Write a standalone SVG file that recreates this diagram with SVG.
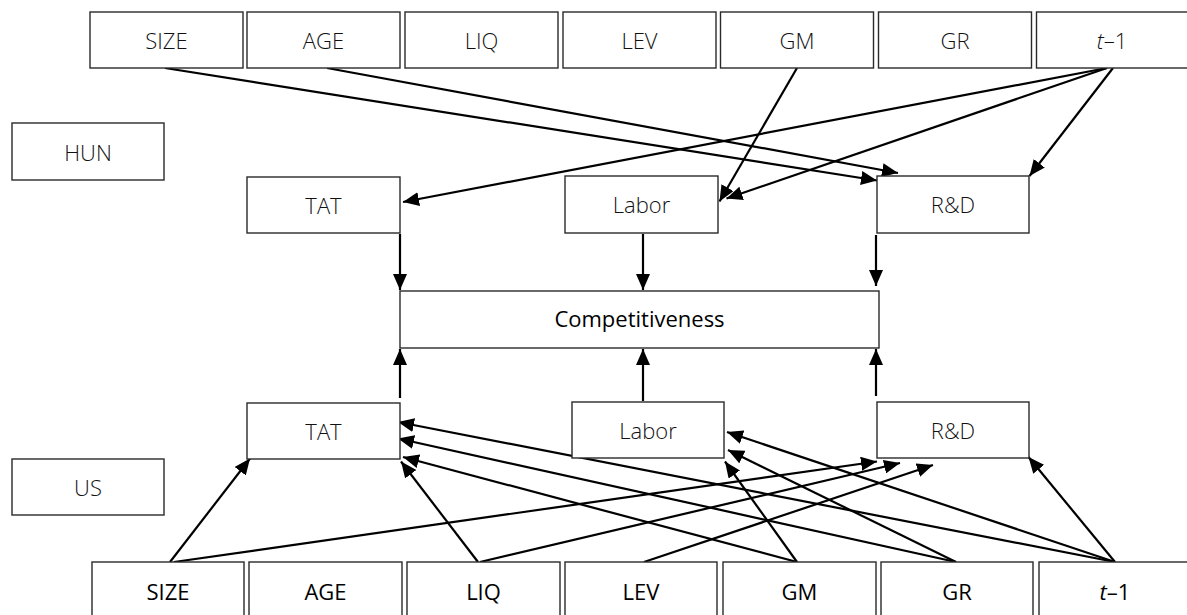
<svg xmlns="http://www.w3.org/2000/svg" width="1187" height="615" viewBox="0 0 1187 615">
<defs>
<style>
.box{fill:#fff;stroke:#2a2a2a;stroke-width:1.4}
.lbl{font-family:"Open Sans","Liberation Sans",sans-serif;font-size:22px;text-anchor:middle;fill:#111;font-weight:300}
.dark{font-weight:400;fill:#000}
.c{fill:none;stroke:#000;stroke-width:2.2}
</style>
<marker id="ah" markerUnits="userSpaceOnUse" markerWidth="16" markerHeight="14" refX="16" refY="7" orient="auto">
<path d="M0,0 L16,7 L0,14 z" fill="#000"/>
</marker>
</defs>
<rect width="1187" height="615" fill="#fff"/>

<g id="connectors">
<!-- top (HUN) -->
<line class="c" x1="165" y1="68" x2="877" y2="180.5" marker-end="url(#ah)"/>
<line class="c" x1="327" y1="68" x2="898" y2="173" marker-end="url(#ah)"/>
<line class="c" x1="797" y1="68" x2="719.5" y2="201.5" marker-end="url(#ah)"/>
<line class="c" x1="1107" y1="68" x2="403" y2="202" marker-end="url(#ah)"/>
<line class="c" x1="1107" y1="68" x2="726.5" y2="198.5" marker-end="url(#ah)"/>
<line class="c" x1="1113" y1="68" x2="1029.5" y2="176" marker-end="url(#ah)"/>
<line class="c" x1="400" y1="234" x2="400" y2="290" marker-end="url(#ah)"/>
<line class="c" x1="643" y1="234" x2="643" y2="290" marker-end="url(#ah)"/>
<line class="c" x1="876" y1="235" x2="876" y2="286" marker-end="url(#ah)"/>
<!-- bottom (US) -->
<line class="c" x1="400" y1="398" x2="400" y2="349" marker-end="url(#ah)"/>
<line class="c" x1="643" y1="401" x2="643" y2="349" marker-end="url(#ah)"/>
<line class="c" x1="876" y1="396" x2="876" y2="349" marker-end="url(#ah)"/>
<line class="c" x1="170" y1="562" x2="250" y2="458.5" marker-end="url(#ah)"/>
<line class="c" x1="174" y1="562" x2="877" y2="461.5" marker-end="url(#ah)"/>
<line class="c" x1="478" y1="562" x2="401" y2="461.5" marker-end="url(#ah)"/>
<line class="c" x1="480" y1="562" x2="900" y2="463" marker-end="url(#ah)"/>
<line class="c" x1="644" y1="562" x2="933" y2="465" marker-end="url(#ah)"/>
<line class="c" x1="797" y1="562" x2="403" y2="457" marker-end="url(#ah)"/>
<line class="c" x1="797" y1="562" x2="725" y2="461.5" marker-end="url(#ah)"/>
<line class="c" x1="956" y1="562" x2="398" y2="438.5" marker-end="url(#ah)"/>
<line class="c" x1="956" y1="562" x2="728" y2="450" marker-end="url(#ah)"/>
<line class="c" x1="1115" y1="562" x2="398" y2="422" marker-end="url(#ah)"/>
<line class="c" x1="1115" y1="562" x2="727" y2="432" marker-end="url(#ah)"/>
<line class="c" x1="1115" y1="562" x2="1028.5" y2="457" marker-end="url(#ah)"/>
</g>

<g id="hun-size"><rect class="box" x="90" y="12" width="153" height="56"/><text class="lbl" x="166.5" y="49">SIZE</text></g>
<g id="hun-age"><rect class="box" x="247" y="12" width="153" height="56"/><text class="lbl" x="323.5" y="49">AGE</text></g>
<g id="hun-liq"><rect class="box" x="405" y="12" width="153" height="56"/><text class="lbl" x="481.5" y="49">LIQ</text></g>
<g id="hun-lev"><rect class="box" x="563" y="12" width="153" height="56"/><text class="lbl" x="639.5" y="49">LEV</text></g>
<g id="hun-gm"><rect class="box" x="720.5" y="12" width="153" height="56"/><text class="lbl" x="797" y="49">GM</text></g>
<g id="hun-gr"><rect class="box" x="878.5" y="12" width="153" height="56"/><text class="lbl" x="955" y="49">GR</text></g>
<g id="hun-t1"><rect class="box" x="1036.5" y="12" width="153" height="56"/><text class="lbl" x="1112" y="49"><tspan font-style="italic">t</tspan>–1</text></g>

<g id="hun"><rect class="box" x="12" y="123" width="152" height="57"/><text class="lbl" x="88" y="161">HUN</text></g>
<g id="us"><rect class="box" x="12" y="459" width="152" height="56"/><text class="lbl" x="88" y="496">US</text></g>

<g id="hun-tat"><rect class="box" x="247" y="177" width="153" height="56"/><text class="lbl" x="323.5" y="214">TAT</text></g>
<g id="hun-labor"><rect class="box" x="565" y="176" width="153" height="57"/><text class="lbl" x="641.5" y="213">Labor</text></g>
<g id="hun-rd"><rect class="box" x="877" y="176" width="152" height="57"/><text class="lbl" x="953" y="213">R&amp;D</text></g>

<g id="competitiveness"><rect class="box" x="400" y="291" width="479" height="57"/><text class="lbl dark" x="639.5" y="327">Competitiveness</text></g>

<g id="us-tat"><rect class="box" x="247" y="403" width="153" height="56"/><text class="lbl" x="323.5" y="440">TAT</text></g>
<g id="us-labor"><rect class="box" x="572" y="402" width="152" height="56"/><text class="lbl" x="648" y="439">Labor</text></g>
<g id="us-rd"><rect class="box" x="877" y="402" width="152" height="56"/><text class="lbl" x="953" y="439">R&amp;D</text></g>

<g id="us-size"><rect class="box" x="92" y="562" width="152" height="60"/><text class="lbl dark" x="168" y="600">SIZE</text></g>
<g id="us-age"><rect class="box" x="249" y="562" width="153" height="60"/><text class="lbl dark" x="325.5" y="600">AGE</text></g>
<g id="us-liq"><rect class="box" x="407" y="562" width="153" height="60"/><text class="lbl dark" x="483.5" y="600">LIQ</text></g>
<g id="us-lev"><rect class="box" x="565" y="562" width="152" height="60"/><text class="lbl dark" x="641" y="600">LEV</text></g>
<g id="us-gm"><rect class="box" x="723" y="562" width="153" height="60"/><text class="lbl dark" x="799.5" y="600">GM</text></g>
<g id="us-gr"><rect class="box" x="881" y="562" width="152" height="60"/><text class="lbl dark" x="957" y="600">GR</text></g>
<g id="us-t1"><rect class="box" x="1039" y="562" width="153" height="60"/><text class="lbl dark" x="1115" y="600"><tspan font-style="italic">t</tspan>–1</text></g>
</svg>
